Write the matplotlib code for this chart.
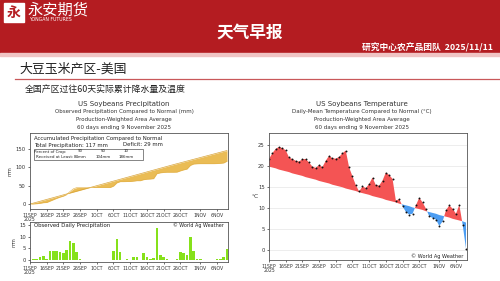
import numpy as np
import pandas as pd
import matplotlib
matplotlib.use('Agg')
import matplotlib.pyplot as plt
from matplotlib.patches import Rectangle

# ---------------- data ----------------
start_date = '2025-09-11'
n_days = 60
tick_dates = ['2025-09-11', '2025-09-16', '2025-09-21', '2025-09-26', '2025-10-01', '2025-10-06',
              '2025-10-11', '2025-10-16', '2025-10-21', '2025-10-26', '2025-11-01', '2025-11-06']
tick_labels = ['11SEP\n2025', '16SEP', '21SEP', '26SEP', '1OCT', '6OCT',
               '11OCT', '16OCT', '21OCT', '26OCT', '1NOV', '6NOV']

daily_precip = [0, 0.3, 0.6, 1.1, 1.6, 0.6, 3.8, 3.8, 3.8, 3.3,
                2.8, 4.4, 8.2, 7.2, 3.3, 0.3, 0, 0, 0, 0,
                0, 0, 0, 0, 0, 3.9, 8.8, 3.3, 0, 0.3,
                0, 1.1, 1.1, 0, 2.8, 1.3, 0.6, 0.9, 13.7, 2.2,
                1.1, 0.6, 0, 0, 0.3, 3.3, 2.8, 2.2, 9.9, 3.9,
                0.6, 0.3, 0, 0, 0, 0, 0.3, 0.6, 1.1, 4.9]
normal_daily_precip = [0, 2.5, 2.5, 2.5, 2.5, 2.5, 2.5, 2.5, 2.5, 2.5,
                       2.5, 2.5, 2.5, 2.5, 2.5, 2.5, 2.5, 2.5, 2.5, 2.5,
                       2.5, 2.5, 2.5, 2.5, 2.5, 2.5, 2.5, 2.5, 2.5, 2.5,
                       2.5, 2.5, 2.5, 2.5, 2.5, 2.5, 2.5, 2.5, 2.5, 2.5,
                       2.5, 2.5, 2.5, 2.5, 2.4, 2.4, 2.4, 2.4, 2.4, 2.4,
                       2.4, 2.4, 2.4, 2.4, 2.4, 2.4, 2.4, 2.4, 2.4, 2.3]
crop_percent = ['90', '50', '10']
crop_received = ['84mm', '104mm', '186mm']
total_precip = 117
deficit = 29

temp_obs = [21.6, 23.0, 24.0, 24.5, 24.2, 23.7, 22.0, 21.6, 21.2, 21.0,
            21.6, 21.6, 20.8, 19.8, 19.5, 20.2, 19.7, 21.2, 22.4, 21.8,
            21.7, 22.1, 23.0, 23.6, 19.6, 17.5, 15.4, 13.9, 15.1, 14.7,
            15.7, 17.2, 15.4, 15.3, 16.5, 18.4, 17.8, 16.9, 11.7, 12.1,
            10.4, 9.0, 8.4, 8.6, 10.6, 12.4, 11.3, 9.8, 8.0, 7.6,
            7.2, 5.7, 6.8, 9.4, 10.6, 9.8, 8.6, 10.7, 6.0, 0.3]
temp_normal = [19.8, 19.6, 19.4, 19.1, 18.9, 18.7, 18.5, 18.2, 18.0, 17.8,
               17.6, 17.3, 17.1, 16.9, 16.7, 16.4, 16.2, 16.0, 15.8, 15.5,
               15.3, 15.1, 14.9, 14.6, 14.4, 14.2, 14.0, 13.7, 13.5, 13.3,
               13.1, 12.8, 12.6, 12.4, 12.2, 11.9, 11.7, 11.5, 11.3, 11.0,
               10.8, 10.6, 10.4, 10.1, 9.9, 9.7, 9.5, 9.2, 9.0, 8.8,
               8.6, 8.3, 8.1, 7.9, 7.7, 7.4, 7.2, 7.0, 6.8, 6.5]

# ---------------- layout helpers ----------------
W, H = 500, 281
fig = plt.figure(figsize=(5, 2.81), dpi=100)
CJK = ['Noto Sans CJK SC', 'DejaVu Sans']


def fx(x):
    return x / W


def fy(y):
    return 1 - y / H


def box(x0, y0, x1, y1):
    return [fx(x0), fy(y1), (x1 - x0) / W, (y1 - y0) / H]


days = np.arange(n_days)
d0 = pd.Timestamp(start_date)
tick_pos = [(pd.Timestamp(t) - d0).days for t in tick_dates]

# ---------------- header ----------------
fig.patches.append(Rectangle((0, fy(53)), 1, 53 / H, transform=fig.transFigure,
                             color='#B41C21', zorder=0))
fig.patches.append(Rectangle((0, fy(56)), 1, 3 / H, transform=fig.transFigure,
                             color='#F0C4C4', zorder=0))
fig.patches.append(Rectangle((fx(4), fy(22)), 20 / W, 19 / H, transform=fig.transFigure,
                             color='white', zorder=1))
fig.text(fx(14), fy(12.5), '永', family=CJK, fontsize=10, fontweight='bold', color='#B41C21',
         ha='center', va='center', zorder=2)
fig.text(fx(28), fy(9.5), '永安期货', family=CJK, fontsize=11, color='white',
         ha='left', va='center')
fig.text(fx(29), fy(19.5), 'YONGAN FUTURES', fontsize=3.3, color='white',
         ha='left', va='center')
fig.text(fx(250), fy(32.5), '天气早报', family=CJK, fontsize=12, fontweight='bold',
         color='white', ha='center', va='center')
fig.text(fx(493), fy(48), '研究中心农产品团队  2025/11/11', family=CJK, fontsize=6.3,
         fontweight='bold', color='white', ha='right', va='center')

# section heading
fig.text(fx(19), fy(69.5), '大豆玉米产区-美国', family=CJK, fontsize=9.3, color='#222222',
         ha='left', va='center')
fig.lines.append(plt.Line2D([fx(15), fx(500)], [fy(79), fy(79)], transform=fig.transFigure,
                            color='#C9585A', lw=0.9))
fig.text(fx(25), fy(89), '全国产区过往60天实际累计降水量及温度', family=CJK, fontsize=6.4,
         color='#222222', ha='left', va='center')

TXT = '#333333'


def titles(cx, lines):
    ys = [104, 112, 119.5, 127]
    sizes = [5.0, 4.0, 4.0, 4.0]
    for t, y, s in zip(lines, ys, sizes):
        fig.text(fx(cx), fy(y), t, fontsize=s, color=TXT, ha='center', va='center')


titles(124, ['US Soybeans Precipitation',
             'Observed Precipitation Compared to Normal (mm)',
             'Production-Weighted Area Average',
             '60 days ending 9 November 2025'])
titles(362, ['US Soybeans Temperature',
             'Daily-Mean Temperature Compared to Normal (\u00b0C)',
             'Production-Weighted Area Average',
             '60 days ending 9 November 2025'])


def style_axes(ax, yticks):
    for s in ax.spines.values():
        s.set_color('#555555')
        s.set_linewidth(0.6)
    ax.set_xticks(tick_pos)
    ax.set_xticklabels(tick_labels, fontsize=3.3, color=TXT, linespacing=0.9)
    ax.set_yticks(yticks)
    ax.tick_params(axis='y', labelsize=3.8, labelcolor=TXT, length=1.5, width=0.4, pad=1.5)
    ax.tick_params(axis='x', length=1.5, width=0.4, pad=1.2)
    ax.set_xlim(0, 59.3)


# ---------------- precipitation cumulative ----------------
obs_cum = np.cumsum(daily_precip)
norm_cum = np.cumsum(normal_daily_precip)
ax1 = fig.add_axes(box(30, 133, 228, 209))
ax1.fill_between(days, obs_cum, norm_cum, color='#EABC55', lw=0)
ax1.plot(days, norm_cum, color='#D9A53C', lw=0.5)
ax1.plot(days, obs_cum, color='#E2B04A', lw=0.4)
ax1.set_ylim(-13.6, 193.6)
style_axes(ax1, [0, 50, 100, 150])
ax1.set_ylabel('mm', fontsize=3.6, color=TXT, labelpad=2)

fig.text(fx(34), fy(138.5), 'Accumulated Precipitation Compared to Normal', fontsize=3.9,
         color='#222222', ha='left', va='center')
fig.text(fx(34), fy(145), f'Total Precipitation: {total_precip} mm', fontsize=3.9,
         color='#222222', ha='left', va='center')
fig.text(fx(123), fy(145), f'Deficit: {deficit} mm', fontsize=3.9,
         color='#222222', ha='left', va='center')
fig.patches.append(Rectangle((fx(34), fy(159.5)), 109 / W, 11 / H, transform=fig.transFigure,
                             fill=False, ec='#555555', lw=0.5))
fig.text(fx(50), fy(151.5), 'Percent of Crop:', fontsize=2.9, color='#222222',
         ha='center', va='center')
fig.text(fx(36), fy(156.5), 'Received at Least:', fontsize=2.9, color='#222222',
         ha='left', va='center')
for cxp, p, r in zip([80, 103, 126], crop_percent, crop_received):
    fig.text(fx(cxp), fy(151.5), p, fontsize=2.9, color='#222222', ha='center', va='center')
    fig.text(fx(cxp), fy(156.5), r, fontsize=2.9, color='#222222', ha='center', va='center')

# ---------------- daily precipitation ----------------
ax2 = fig.add_axes(box(30, 222, 228, 262))
ax2.bar(days, daily_precip, width=0.78, color='#86E11A', lw=0)
ax2.set_ylim(-0.9, 16.3)
style_axes(ax2, [0, 5, 10, 15])
ax2.set_ylabel('mm', fontsize=3.6, color=TXT, labelpad=2)
fig.text(fx(34), fy(225.5), 'Observed Daily Precipitation', fontsize=3.9,
         color='#222222', ha='left', va='center')
fig.text(fx(224), fy(225.5), '\u00a9 World Ag Weather', fontsize=3.5,
         color='#222222', ha='right', va='center')

# ---------------- temperature ----------------
tobs = np.array(temp_obs)
tnorm = np.array(temp_normal)
ax3 = fig.add_axes(box(269, 133, 467, 260))
ax3.grid(axis='y', color='#E6E6E6', lw=0.5)
ax3.set_axisbelow(True)
ax3.fill_between(days, tobs, tnorm, where=tobs >= tnorm, interpolate=True,
                 color='#F45454', lw=0)
ax3.fill_between(days, tobs, tnorm, where=tobs < tnorm, interpolate=True,
                 color='#4C9DF2', lw=0)
ax3.plot(days, tobs, 'o', ms=1.4, color='#111111', mew=0)
ax3.set_ylim(-2.4, 27.8)
style_axes(ax3, [0, 5, 10, 15, 20, 25])
ax3.set_ylabel('\u00b0C', fontsize=4.2, color=TXT, rotation=0, labelpad=2, va='center')
fig.text(fx(463), fy(256.5), '\u00a9 World Ag Weather', fontsize=3.6,
         color='#222222', ha='right', va='center')

fig.savefig('out.png', dpi=100)
